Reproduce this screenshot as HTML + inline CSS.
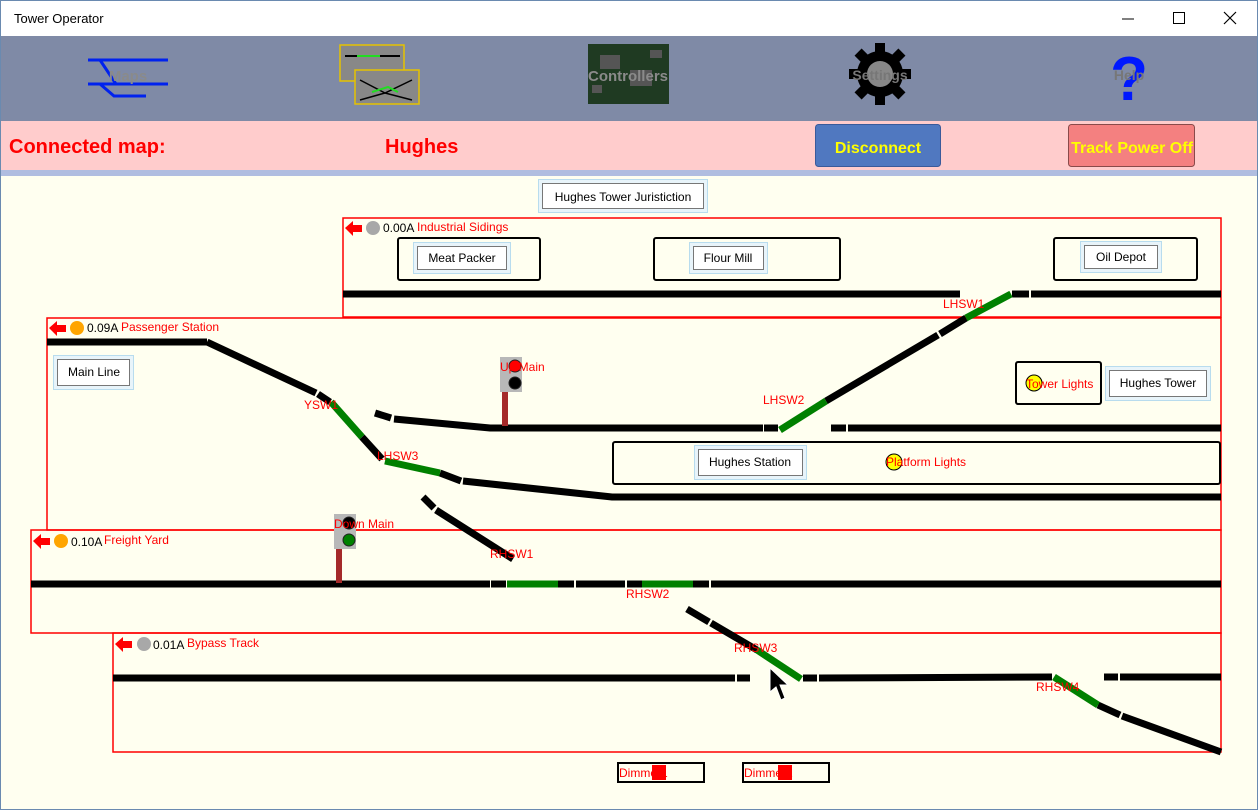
<!DOCTYPE html>
<html><head><meta charset="utf-8"><style>
html,body{margin:0;padding:0;width:1258px;height:810px;overflow:hidden;background:#fff}
svg{display:block}
text{font-family:"Liberation Sans",sans-serif}
</style></head><body>
<svg width="1258" height="810" viewBox="0 0 1258 810">
<rect x="0" y="0" width="1258" height="810" fill="#fffff0"/>
<rect x="0" y="0" width="1258" height="36" fill="#fff"/>
<text x="14" y="23" font-size="13" fill="#000">Tower Operator</text>
<line x1="1122" y1="19" x2="1134" y2="19" stroke="#000" stroke-width="1"/>
<rect x="1173.5" y="12.5" width="11" height="11" fill="none" stroke="#000"/>
<path d="M1224 12 L1236 24 M1236 12 L1224 24" stroke="#000" stroke-width="1.2"/>
<rect x="0" y="36" width="1258" height="85" fill="#7f8aa6"/>
<!-- maps icon -->
<g stroke="#0022ee" stroke-width="3" fill="none">
<line x1="88" y1="60" x2="168" y2="60"/><line x1="88" y1="84" x2="168" y2="84"/>
<path d="M100 60 L116 84"/><path d="M100 84 L114 96 L146 96"/>
</g>
<text x="128" y="81" font-size="15" font-weight="bold" fill="#8a8a8a" text-anchor="middle">Maps</text>
<!-- trains icon -->
<rect x="340" y="45" width="64" height="36" fill="#888" stroke="#e6c200" stroke-width="1.5"/>
<line x1="345" y1="56" x2="400" y2="56" stroke="#000" stroke-width="2"/>
<line x1="357" y1="56" x2="380" y2="56" stroke="#22dd22" stroke-width="2"/>
<rect x="355" y="70" width="64" height="34" fill="#888" stroke="#e6c200" stroke-width="1.5"/>
<path d="M360 80 L385 93 L412 80 M360 100 L385 93 M412 100 L385 93" stroke="#000" stroke-width="1.5" fill="none"/>
<path d="M372 92 L388 87 L398 92" stroke="#22dd22" stroke-width="2" fill="none"/>
<!-- controllers -->
<rect x="588" y="44" width="81" height="60" fill="#1f3a22"/>
<g fill="#555"><rect x="600" y="55" width="20" height="14"/><rect x="630" y="70" width="22" height="16"/><rect x="592" y="85" width="10" height="8"/><rect x="650" y="50" width="12" height="8"/></g>
<text x="628" y="81" font-size="15" font-weight="bold" fill="#8a8a8a" text-anchor="middle">Controllers</text>
<!-- settings gear -->
<g transform="translate(880,74)">
<g fill="#000">
<rect x="-5" y="-31" width="10" height="62"/>
<rect x="-5" y="-31" width="10" height="62" transform="rotate(45)"/>
<rect x="-5" y="-31" width="10" height="62" transform="rotate(90)"/>
<rect x="-5" y="-31" width="10" height="62" transform="rotate(135)"/>
<circle r="23"/>
</g>
<circle r="13" fill="#888"/>
</g>
<text x="880" y="80" font-size="14" font-weight="bold" fill="#777" text-anchor="middle">Settings</text>
<!-- help -->
<text x="1129" y="100" font-size="62" font-weight="bold" fill="#0018ff" text-anchor="middle">?</text>
<text x="1129" y="80" font-size="14" font-weight="bold" fill="#777" text-anchor="middle">Help</text>
<!-- pink band -->
<rect x="0" y="121" width="1258" height="49" fill="#ffcccc"/>
<rect x="0" y="170" width="1258" height="6" fill="#b0bde0"/>
<text x="9" y="153" font-size="20" font-weight="bold" fill="#ff0000">Connected map:</text>
<text x="385" y="153" font-size="20" font-weight="bold" fill="#ff0000">Hughes</text>
<rect x="815.5" y="124.5" width="125" height="42" rx="3" fill="#5078c0" stroke="#3a5a9a"/>
<text x="878" y="153" font-size="16" font-weight="bold" fill="#ffff00" text-anchor="middle">Disconnect</text>
<rect x="1068.5" y="124.5" width="126" height="42" rx="3" fill="#f48080" stroke="#8a4a4a"/>
<text x="1132" y="153" font-size="16" font-weight="bold" fill="#ffff00" text-anchor="middle">Track Power Off</text>
<!-- window borders -->
<rect x="0.5" y="0.5" width="1257" height="809" fill="none" stroke="#6a8ab0"/>

<!-- header label -->
<rect x="538.5" y="179.5" width="169" height="33" fill="#e8f4fa" stroke="#b8dcee"/>
<rect x="542.5" y="183.5" width="161" height="25" fill="#fff" stroke="#777"/>
<text x="623" y="201" font-size="12" fill="#000" text-anchor="middle">Hughes Tower Juristiction</text>

<!-- block boxes -->
<g fill="none" stroke="#ff0000" stroke-width="1.5">
<rect x="343" y="218" width="878" height="99"/>
<rect x="47" y="318" width="1174" height="212"/>
<rect x="31" y="530" width="1190" height="103"/>
<rect x="113" y="633" width="1108" height="119"/>
</g>
<!-- block headers -->
<g font-size="12">
<path d="M345 228 L353 221 L353 225 L362 225 L362 232 L353 232 L353 236 Z" fill="#ff0000"/>
<circle cx="373" cy="228" r="7" fill="#a8a8a8"/>
<text x="383" y="232" fill="#000">0.00A</text><text x="417" y="231" fill="#ff0000">Industrial Sidings</text>
<path d="M49 328 L57 321 L57 325 L66 325 L66 332 L57 332 L57 336 Z" fill="#ff0000"/>
<circle cx="77" cy="328" r="7" fill="#ffa500"/>
<text x="87" y="332" fill="#000">0.09A</text><text x="121" y="331" fill="#ff0000">Passenger Station</text>
<path d="M33 541 L41 534 L41 538 L50 538 L50 545 L41 545 L41 549 Z" fill="#ff0000"/>
<circle cx="61" cy="541" r="7" fill="#ffa500"/>
<text x="71" y="546" fill="#000">0.10A</text><text x="104" y="544" fill="#ff0000">Freight Yard</text>
<path d="M115 644 L123 637 L123 641 L132 641 L132 648 L123 648 L123 652 Z" fill="#ff0000"/>
<circle cx="144" cy="644" r="7" fill="#a8a8a8"/>
<text x="153" y="649" fill="#000">0.01A</text><text x="187" y="647" fill="#ff0000">Bypass Track</text>
</g>
<!-- building boxes -->
<g fill="none" stroke="#000" stroke-width="2">
<rect x="398" y="238" width="142" height="42" rx="2"/>
<rect x="654" y="238" width="186" height="42" rx="2"/>
<rect x="1054" y="238" width="143" height="42" rx="2"/>
<rect x="1016" y="362" width="85" height="42" rx="2"/>
<rect x="613" y="442" width="607" height="42" rx="2"/>
<rect x="618" y="763" width="86" height="19"/>
<rect x="743" y="763" width="86" height="19"/>
</g>
<!-- labels -->
<g font-size="12" text-anchor="middle">
<rect x="413.5" y="242.5" width="97" height="31" fill="#e8f4fa" stroke="#b8dcee"/><rect x="417.5" y="246.5" width="89" height="23" fill="#fff" stroke="#777"/><text x="462" y="262">Meat Packer</text>
<rect x="689.5" y="242.5" width="78" height="31" fill="#e8f4fa" stroke="#b8dcee"/><rect x="693.5" y="246.5" width="70" height="23" fill="#fff" stroke="#777"/><text x="728" y="262">Flour Mill</text>
<rect x="1080.5" y="241.5" width="81" height="31" fill="#e8f4fa" stroke="#b8dcee"/><rect x="1084.5" y="245.5" width="73" height="23" fill="#fff" stroke="#777"/><text x="1121" y="261">Oil Depot</text>
<rect x="53.5" y="355.5" width="80" height="34" fill="#e8f4fa" stroke="#b8dcee"/><rect x="57.5" y="359.5" width="72" height="26" fill="#fff" stroke="#777"/><text x="94" y="376">Main Line</text>
<rect x="1105.5" y="366.5" width="105" height="34" fill="#e8f4fa" stroke="#b8dcee"/><rect x="1109.5" y="370.5" width="97" height="26" fill="#fff" stroke="#777"/><text x="1158" y="387">Hughes Tower</text>
<rect x="694.5" y="445.5" width="112" height="34" fill="#e8f4fa" stroke="#b8dcee"/><rect x="698.5" y="449.5" width="104" height="26" fill="#fff" stroke="#777"/><text x="750" y="466">Hughes Station</text>
</g>
<!-- tracks black -->
<g stroke="#000" stroke-width="7" fill="none" stroke-linecap="butt">
<line x1="343" y1="294" x2="960" y2="294"/>
<line x1="1012" y1="294" x2="1029" y2="294"/><line x1="1031" y1="294" x2="1221" y2="294"/>
<line x1="940" y1="334" x2="966" y2="318"/>
<polyline points="826,401 938,335"/>
<line x1="47" y1="342" x2="207" y2="342"/>
<polyline points="207,342 316,393"/>
<line x1="318" y1="394" x2="330" y2="402"/>
<polyline points="362,437 382,459"/>
<line x1="440" y1="473" x2="461" y2="481"/>
<polyline points="463,481 612,497 1221,497"/>
<line x1="375" y1="413" x2="391" y2="418"/>
<polyline points="394,419 490,428 763,428"/>
<line x1="764" y1="428" x2="778" y2="428"/>
<line x1="831" y1="428" x2="846" y2="428"/><line x1="848" y1="428" x2="1221" y2="428"/>
<line x1="423" y1="497" x2="434" y2="508"/>
<line x1="436" y1="510" x2="513" y2="559"/>
<line x1="31" y1="584" x2="490" y2="584"/><line x1="491" y1="584" x2="506" y2="584"/>
<line x1="558" y1="584" x2="574" y2="584"/><line x1="576" y1="584" x2="625" y2="584"/>
<line x1="627" y1="584" x2="642" y2="584"/><line x1="693" y1="584" x2="709" y2="584"/>
<line x1="711" y1="584" x2="1221" y2="584"/>
<line x1="687" y1="609" x2="709" y2="622"/><line x1="711" y1="623" x2="757" y2="650"/>
<line x1="113" y1="678" x2="735" y2="678"/><line x1="737" y1="678" x2="750" y2="678"/>
<line x1="803" y1="678" x2="817" y2="678"/><line x1="819" y1="678" x2="1052" y2="677"/>
<line x1="1104" y1="677" x2="1118" y2="677"/><line x1="1120" y1="677" x2="1221" y2="677"/>
<line x1="1098" y1="705" x2="1120" y2="715"/><line x1="1122" y1="716" x2="1221" y2="752"/>
</g>
<!-- green -->
<g stroke="#008000" stroke-width="7" fill="none">
<line x1="966" y1="318" x2="1011" y2="294"/>
<line x1="780" y1="430" x2="826" y2="401"/>
<line x1="331" y1="402" x2="362" y2="437"/>
<line x1="385" y1="461" x2="440" y2="473"/>
<line x1="507" y1="584" x2="558" y2="584"/>
<line x1="642" y1="584" x2="693" y2="584"/>
<line x1="757" y1="650" x2="801" y2="679"/>
<line x1="1054" y1="677" x2="1098" y2="705"/>
</g>
<!-- signals -->
<rect x="502" y="391" width="6" height="35" fill="#a52a2a"/>
<rect x="500" y="357" width="22" height="35" fill="#b8b8b8"/>
<circle cx="515" cy="366" r="6" fill="#ff0000" stroke="#222"/>
<circle cx="515" cy="383" r="6" fill="#000" stroke="#222"/>
<rect x="336" y="548" width="6" height="35" fill="#a52a2a"/>
<rect x="334" y="514" width="22" height="35" fill="#b8b8b8"/>
<circle cx="349" cy="523" r="6" fill="#000" stroke="#222"/>
<circle cx="349" cy="540" r="6" fill="#008000" stroke="#222"/>
<!-- lights -->
<circle cx="1034" cy="383" r="8" fill="#ffff00" stroke="#000"/>
<circle cx="894" cy="462" r="8" fill="#ffff00" stroke="#000"/>
<rect x="652" y="765" width="14" height="15" fill="#ff0000"/>
<rect x="778" y="765" width="14" height="15" fill="#ff0000"/>
<!-- red labels -->
<g font-size="12" fill="#ff0000">
<text x="943" y="308">LHSW1</text>
<text x="763" y="404">LHSW2</text>
<text x="304" y="409">YSW1</text>
<text x="377" y="460">LHSW3</text>
<text x="500" y="371">Up Main</text>
<text x="334" y="528">Down Main</text>
<text x="490" y="558">RHSW1</text>
<text x="626" y="598">RHSW2</text>
<text x="734" y="652">RHSW3</text>
<text x="1036" y="691">RHSW4</text>
<text x="1026" y="388">Tower Lights</text>
<text x="886" y="466">Platform Lights</text>
<text x="619" y="777">Dimmer1</text>
<text x="744" y="777">Dimmer2</text>
</g>
<!-- cursor -->
<path d="M770 668 L770 692 L776 687 L781 700 L785 698 L780 685 L788 685 Z" fill="#000" stroke="#fff" stroke-width="1"/>
</svg>
</body></html>
